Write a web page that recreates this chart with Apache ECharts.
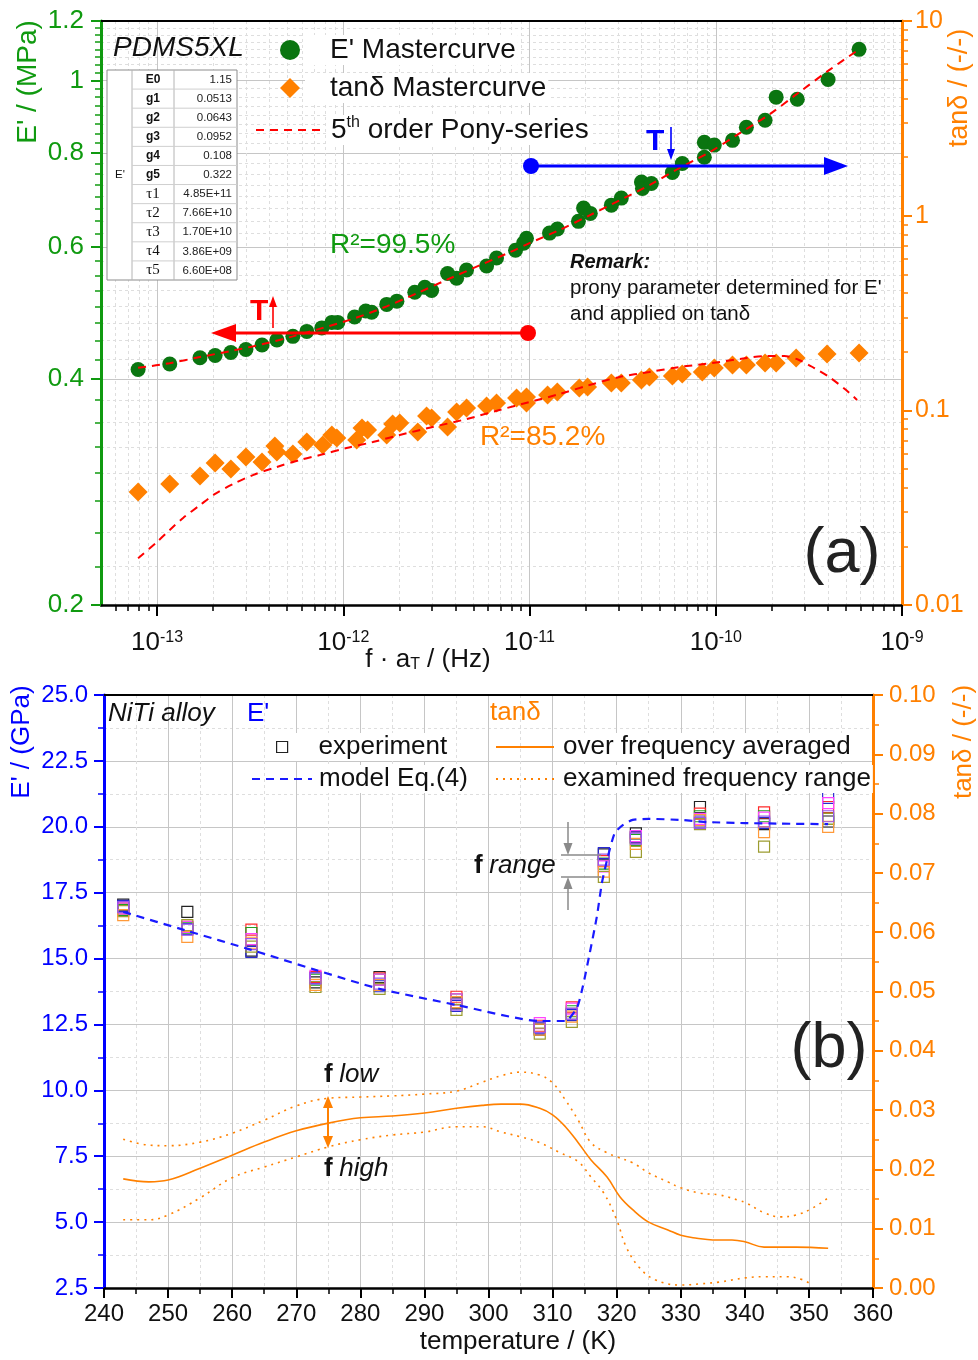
<!DOCTYPE html>
<html>
<head>
<meta charset="utf-8">
<title>PDMS5XL / NiTi alloy</title>
<script src="https://cdn.jsdelivr.net/npm/echarts@6.0.0/dist/echarts.min.js"></script>
<style>
  html, body { margin: 0; padding: 0; background: #fff; }
  #chart { width: 978px; height: 1360px; }
</style>
</head>
<body>
<div id="chart"></div>
<script>
// ---------------------------------------------------------------------------
// (a) PDMS5XL master curves
const eFreq = [7.91e-14, 1.17e-13, 1.70e-13, 2.05e-13, 2.49e-13, 3.00e-13, 3.66e-13, 4.40e-13, 5.36e-13, 6.37e-13,
  7.67e-13, 8.68e-13, 9.34e-13, 1.15e-12, 1.32e-12, 1.42e-12, 1.71e-12, 1.94e-12, 2.42e-12, 2.74e-12,
  2.98e-12, 3.63e-12, 4.06e-12, 4.59e-12, 5.88e-12, 6.65e-12, 8.41e-12, 9.29e-12, 9.63e-12, 1.28e-11,
  1.41e-11, 1.83e-11, 1.95e-11, 2.12e-11, 2.75e-11, 3.11e-11, 3.99e-11, 4.04e-11, 4.51e-11, 5.85e-11,
  6.61e-11, 8.68e-11, 8.68e-11, 9.82e-11, 1.23e-10, 1.46e-10, 1.84e-10, 2.11e-10, 2.74e-10, 4.01e-10, 5.88e-10];
const eStorage = [0.412, 0.419, 0.427, 0.430, 0.434, 0.438, 0.444, 0.451, 0.456, 0.463,
  0.468, 0.476, 0.476, 0.484, 0.493, 0.491, 0.503, 0.508, 0.522, 0.530,
  0.525, 0.553, 0.545, 0.559, 0.566, 0.580, 0.594, 0.607, 0.616, 0.626,
  0.634, 0.649, 0.676, 0.665, 0.682, 0.697, 0.732, 0.718, 0.729, 0.754,
  0.775, 0.790, 0.827, 0.820, 0.832, 0.866, 0.885, 0.950, 0.944, 1.003, 1.100];

const tanFreq = [7.91e-14, 1.17e-13, 1.70e-13, 2.05e-13, 2.49e-13, 3.00e-13, 3.66e-13, 4.29e-13, 4.40e-13, 5.36e-13,
  6.37e-13, 7.76e-13, 8.68e-13, 9.23e-13, 1.18e-12, 1.26e-12, 1.35e-12, 1.71e-12, 1.84e-12, 2.01e-12,
  2.51e-12, 2.80e-12, 2.98e-12, 3.63e-12, 4.06e-12, 4.59e-12, 5.88e-12, 6.65e-12, 8.52e-12, 9.63e-12,
  9.63e-12, 1.25e-11, 1.41e-11, 1.85e-11, 2.05e-11, 2.75e-11, 3.11e-11, 3.99e-11, 4.40e-11, 5.85e-11,
  6.61e-11, 8.47e-11, 9.82e-11, 1.23e-10, 1.46e-10, 1.84e-10, 2.11e-10, 2.70e-10, 3.96e-10, 5.88e-10];
const tanDelta = [0.0381, 0.0418, 0.0460, 0.0536, 0.0500, 0.0576, 0.0543, 0.0656, 0.0611, 0.0596,
  0.0687, 0.0663, 0.0747, 0.0721, 0.0704, 0.0811, 0.0792, 0.0747, 0.0851, 0.0861,
  0.0774, 0.0935, 0.0913, 0.0821, 0.0980, 0.1027, 0.1052, 0.1090, 0.1157, 0.1170,
  0.1090, 0.1198, 0.1242, 0.1302, 0.1317, 0.1381, 0.1381, 0.1431, 0.1483, 0.1501,
  0.1537, 0.1573, 0.1649, 0.1709, 0.1709, 0.1750, 0.1750, 0.1856, 0.1946, 0.1970];

// 5th order Prony fit, traced along the red dashes
const ponyEFreq = [7.91e-14, 1.17e-13, 1.70e-13, 2.49e-13, 3.66e-13, 5.36e-13, 7.76e-13, 1.15e-12, 1.71e-12, 2.51e-12,
  3.63e-12, 5.40e-12, 7.81e-12, 1.00e-11, 1.45e-11, 2.10e-11, 3.04e-11, 4.40e-11, 6.37e-11, 9.23e-11,
  1.34e-10, 1.94e-10, 2.80e-10, 4.06e-10, 5.88e-10];
const ponyE = [0.414, 0.420, 0.428, 0.436, 0.445, 0.456, 0.468, 0.482, 0.500, 0.521,
  0.543, 0.567, 0.590, 0.607, 0.632, 0.661, 0.692, 0.725, 0.764, 0.802,
  0.850, 0.901, 0.964, 1.032, 1.100];
const ponyTanFreq = [7.91e-14, 1.00e-13, 1.17e-13, 1.38e-13, 1.70e-13, 2.05e-13, 2.56e-13, 3.27e-13, 4.40e-13, 5.85e-13,
  7.48e-13, 1.04e-12, 1.44e-12, 2.01e-12, 3.02e-12, 4.59e-12, 6.90e-12, 1.00e-11, 1.45e-11, 2.10e-11,
  3.04e-11, 4.40e-11, 6.37e-11, 9.58e-11, 1.46e-10, 1.87e-10, 2.33e-10, 2.80e-10, 3.38e-10, 4.06e-10,
  5.01e-10, 5.74e-10];
const ponyTan = [0.0174, 0.0211, 0.0243, 0.0280, 0.0326, 0.0372, 0.0418, 0.0465, 0.0512, 0.0556,
  0.0589, 0.0640, 0.0687, 0.0747, 0.0821, 0.0902, 0.1004, 0.1103, 0.1213, 0.1349,
  0.1483, 0.1573, 0.1669, 0.1750, 0.1856, 0.1901, 0.1901, 0.1813, 0.1649, 0.1483,
  0.1272, 0.1130];

const pronyKeys = ['E0', 'g1', 'g2', 'g3', 'g4', 'g5', 'τ1', 'τ2', 'τ3', 'τ4', 'τ5'];
const pronyVals = ['1.15', '0.0513', '0.0643', '0.0952', '0.108', '0.322',
  '4.85E+11', '7.66E+10', '1.70E+10', '3.86E+09', '6.60E+08'];

const freqDecades = [1e-13, 1e-12, 1e-11, 1e-10, 1e-9];
const eTicks = [0.2, 0.4, 0.6, 0.8, 1, 1.2];
const tanTicksA = [0.01, 0.1, 1, 10];

// ---------------------------------------------------------------------------
// (b) NiTi alloy, one list per measuring frequency
const temps = [243, 253, 263, 273, 283, 295, 308, 313, 318, 323, 333, 343, 353];
const expBlack   = [17.05, 16.77, 15.30, 14.10, 14.30, 13.30, 12.30, 12.90, 18.95, 19.75, 20.75, 20.10, 20.20];
const expRed     = [16.90, 16.20, 16.10, 14.30, 14.25, 13.55, 12.45, 13.15, 18.70, 19.60, 20.50, 20.55, 20.75];
const expGreen   = [16.85, 16.15, 15.97, 14.20, 14.20, 13.45, 12.40, 13.00, 18.60, 19.50, 20.40, 20.40, 20.30];
const expBlue    = [17.00, 16.12, 15.25, 14.26, 13.95, 13.20, 12.35, 12.85, 19.00, 19.60, 20.20, 20.15, 21.10];
const expMagenta = [16.90, 16.20, 15.74, 14.34, 14.20, 13.45, 12.55, 13.10, 18.50, 19.65, 20.30, 20.35, 20.90];
const expOlive   = [16.80, 16.27, 15.45, 13.92, 13.85, 13.05, 12.15, 12.60, 18.10, 19.05, 20.10, 19.25, 20.30];
const expOrange  = [16.65, 15.82, 15.60, 14.00, 14.00, 13.35, 12.30, 12.80, 18.30, 19.35, 20.25, 19.80, 20.00];
const expPurple  = [16.95, 16.10, 15.55, 14.25, 14.05, 13.25, 12.40, 12.90, 18.75, 19.55, 20.15, 20.20, 20.40];

const modelT = [243, 253, 263, 273, 283, 295, 308, 312, 313.8, 314.7, 315.8, 316.9, 317.7, 318.5, 319.7, 321, 322.5, 325, 330, 334, 340, 345.5, 353];
const modelE = [16.77, 16.05, 15.33, 14.57, 13.85, 13.24, 12.63, 12.63, 13.13, 13.92, 15.21, 16.58, 17.87, 18.74, 19.76, 20.07, 20.26, 20.30, 20.26, 20.18, 20.14, 20.12, 20.10];

const avgT = [243, 247, 250, 255, 260, 265, 270, 275, 280, 285, 290, 295, 299, 302, 305, 308, 310, 312, 314, 316,
  318.5, 320.5, 322.5, 325, 328, 330, 332.5, 335, 338, 340, 343, 345.5, 348, 353];
const avgTan = [0.0184, 0.0179, 0.0182, 0.0202, 0.0224, 0.0246, 0.0265, 0.0278, 0.0287, 0.0290, 0.0295, 0.0303, 0.0308, 0.0310, 0.0310, 0.0303, 0.0292, 0.0272, 0.0245, 0.0216,
  0.0187, 0.0154, 0.0132, 0.0111, 0.0098, 0.0089, 0.0084, 0.0081, 0.0081, 0.0078, 0.0069, 0.0069, 0.0069, 0.0067];

const fLowT = [243, 247, 250, 255, 260, 265, 270, 275, 280, 285, 290, 295, 299, 302, 305, 308, 310, 312, 314, 316,
  318.5, 320, 322.5, 325, 328, 330, 333, 336, 339, 340.3, 343, 345.5, 348, 350.6, 353];
const fLowTan = [0.0251, 0.0241, 0.0240, 0.0246, 0.0261, 0.0283, 0.0307, 0.0320, 0.0322, 0.0324, 0.0327, 0.0332, 0.0347, 0.0358, 0.0364, 0.0359, 0.0346, 0.0317, 0.0283, 0.0245,
  0.0228, 0.0221, 0.0211, 0.0194, 0.0179, 0.0169, 0.0160, 0.0157, 0.0148, 0.0143, 0.0127, 0.0120, 0.0123, 0.0135, 0.0152];

const fHighT = [243, 247, 250, 255, 260, 265, 270, 275, 280, 285, 290, 295, 299, 302, 305, 308, 311, 314, 316, 318,
  320, 321.5, 323.5, 326, 330, 333, 336, 340, 343, 346.5, 349, 350.5];
const fHighTan = [0.0115, 0.0115, 0.0123, 0.0152, 0.0186, 0.0204, 0.0221, 0.0238, 0.0250, 0.0258, 0.0263, 0.0272, 0.0272, 0.0263, 0.0255, 0.0245, 0.0229, 0.0213, 0.0187, 0.0160,
  0.0115, 0.0069, 0.0035, 0.0014, 0.0005, 0.0007, 0.0010, 0.0017, 0.0019, 0.0019, 0.0014, 0.0005];

// ---------------------------------------------------------------------------
const FONT = '"Liberation Sans", Arial, Helvetica, sans-serif';
const SERIF = '"Liberation Serif", "DejaVu Serif", serif';
const GREEN = '#0a7510';
const GREEN_AX = '#109a10';
const ORANGE = '#ff8000';
const BLUE = '#0000ff';
const RED = '#ff0000';
const GRAY = '#8a8a8a';
const GRID = '#c6c6c6';
const GRID_MINOR = '#dedede';

function zip(xs, ys) {
  return xs.map((x, i) => [x, ys[i]]);
}

// minor ticks of a log axis: 2..9 x each decade
function logMinors(lo, hi) {
  const out = [];
  for (let e = Math.floor(Math.log10(lo)); e <= Math.ceil(Math.log10(hi)); e++) {
    for (let k = 2; k <= 9; k++) {
      const v = +(k * Math.pow(10, e)).toPrecision(3);
      if (v > lo && v < hi) out.push(v);
    }
  }
  return out;
}

// minor ticks of the E' axis at a fixed step
function stepMinors(lo, hi, step, skip) {
  const out = [];
  for (let v = lo + step; v < hi - step / 2; v += step) {
    const r = +v.toFixed(3);
    if (skip.indexOf(r) < 0) out.push(r);
  }
  return out;
}

const freqMinor = logMinors(5e-14, 1e-9);
const tanMinorA = logMinors(0.01, 10);
const eMinor = stepMinors(0.2, 1.2, 0.025, eTicks);

// ---------------------------------------------------------------------------
// graphic helpers
function seg(x1, y1, x2, y2, color, w) {
  return { type: 'line', z: 100, silent: true, shape: { x1, y1, x2, y2 }, style: { stroke: color, lineWidth: w } };
}
function head(x, y, dir, len, w, color) {
  let pts;
  if (dir === 'l') pts = [[x, y], [x + len, y - w], [x + len, y + w]];
  if (dir === 'r') pts = [[x, y], [x - len, y - w], [x - len, y + w]];
  if (dir === 'u') pts = [[x, y], [x - w, y + len], [x + w, y + len]];
  if (dir === 'd') pts = [[x, y], [x - w, y - len], [x + w, y - len]];
  return { type: 'polygon', z: 100, silent: true, shape: { points: pts }, style: { fill: color } };
}
function dot(x, y, r, color) {
  return { type: 'circle', z: 100, silent: true, shape: { cx: x, cy: y, r }, style: { fill: color } };
}
function txt(x, y, text, o) {
  o = o || {};
  return {
    type: 'text', z: 100, silent: true, x, y, rotation: o.rotation || 0,
    style: {
      text,
      fontSize: o.size || 24,
      fontFamily: o.family || FONT,
      fontWeight: o.weight || 'normal',
      fontStyle: o.style || 'normal',
      fill: o.color || '#111',
      align: o.align || 'left',
      verticalAlign: 'middle',
      backgroundColor: o.bg,
      rich: o.rich
    }
  };
}
function richFont(size, color, weight, style) {
  return { fontSize: size, fontFamily: FONT, color, fontWeight: weight || 'normal', fontStyle: style || 'normal' };
}

const graphics = [];

// prony table
const tX = 107, tY = 70, tW = 130, tH = 210, c1 = 132, c2 = 174;
const rowH = tH / pronyKeys.length;
graphics.push({ type: 'rect', z: 100, silent: true, shape: { x: tX, y: tY, width: tW, height: tH }, style: { fill: '#fff', stroke: '#8c8c8c', lineWidth: 1 } });
graphics.push(seg(c1, tY, c1, tY + tH, '#b4b4b4', 1));
graphics.push(seg(c2, tY, c2, tY + tH, '#b4b4b4', 1));
pronyKeys.forEach((k, i) => {
  const yc = tY + rowH * (i + 0.5);
  if (i > 0) graphics.push(seg(c1, tY + rowH * i, tX + tW, tY + rowH * i, '#cfcfcf', 1));
  const isTau = k.charAt(0) === 'τ';
  graphics.push(txt(153, yc, k, { size: isTau ? 15 : 12, weight: isTau ? 'normal' : 'bold', family: isTau ? SERIF : FONT, align: 'center' }));
  graphics.push(txt(232, yc, pronyVals[i], { size: 11.5, align: 'right', color: '#222' }));
});
graphics.push(txt(120, tY + tH / 2, "E'", { size: 11.5, align: 'center' }));

// panel (a) texts
graphics.push(txt(113, 48, 'PDMS5XL', { size: 28, style: 'italic' }));
graphics.push(txt(330, 245, 'R²=99.5%', { size: 28, color: GREEN_AX }));
graphics.push(txt(480, 437, 'R²=85.2%', { size: 28, color: ORANGE }));
graphics.push(txt(570, 262, 'Remark:', { size: 20, weight: 'bold', style: 'italic' }));
graphics.push(txt(570, 288, "prony parameter determined for E'", { size: 20.5 }));
graphics.push(txt(570, 314, 'and applied on tanδ', { size: 20.5 }));
graphics.push(txt(842, 555, '(a)', { size: 63, align: 'center', color: '#222' }));

// shift arrows
graphics.push(seg(234, 333, 528, 333, RED, 3));
graphics.push(head(211, 333, 'l', 25, 9, RED));
graphics.push(dot(528, 333, 8, RED));
graphics.push(txt(250, 312, 'T', { size: 30, weight: 'bold', color: RED }));
graphics.push(seg(273, 328, 273, 305, RED, 1.6));
graphics.push(head(273, 296, 'u', 11, 4, RED));

graphics.push(seg(531, 166, 826, 166, BLUE, 3));
graphics.push(head(848, 166, 'r', 24, 9, BLUE));
graphics.push(dot(531, 166, 8, BLUE));
graphics.push(txt(646, 142, 'T', { size: 30, weight: 'bold', color: BLUE }));
graphics.push(seg(671, 127, 671, 150, BLUE, 1.6));
graphics.push(head(671, 160, 'd', 11, 4, BLUE));

// axis names (a)
graphics.push(txt(428, 660, '{n|f · a}{s|T}{n| / (Hz)}', {
  align: 'center',
  rich: { n: richFont(26, '#111'), s: Object.assign(richFont(16, '#111'), { verticalAlign: 'bottom' }) }
}));
graphics.push(txt(28, 82, "E' / (MPa)", { size: 28, color: GREEN_AX, align: 'center', rotation: Math.PI / 2 }));
graphics.push(txt(960, 88, 'tanδ / (-/-)', { size: 27, color: ORANGE, align: 'center', rotation: Math.PI / 2 }));

// panel (b) texts
graphics.push(txt(108, 714, 'NiTi alloy', { size: 26, style: 'italic' }));
graphics.push(txt(247, 714, "E'", { size: 26, color: BLUE }));
graphics.push(txt(490, 713, 'tanδ', { size: 26, color: ORANGE }));
graphics.push(txt(474, 866, '{b|f} {i|range}', {
  rich: { b: richFont(26, GRAY, 'bold'), i: richFont(26, GRAY, 'normal', 'italic') }
}));
graphics.push(seg(568, 822, 568, 846, GRAY, 1.5));
graphics.push(head(568, 855, 'd', 12, 4.5, GRAY));
graphics.push(seg(561, 855, 601, 855, GRAY, 1.5));
graphics.push(seg(561, 877, 601, 877, GRAY, 1.5));
graphics.push(seg(568, 886, 568, 910, GRAY, 1.5));
graphics.push(head(568, 877, 'u', 12, 4.5, GRAY));
graphics.push(txt(829, 1050, '(b)', { size: 63, align: 'center', color: '#222' }));
graphics.push(txt(324, 1075, '{b|f} {i|low}', {
  rich: { b: richFont(26, ORANGE, 'bold'), i: richFont(26, ORANGE, 'normal', 'italic') }
}));
graphics.push(txt(324, 1169, '{b|f} {i|high}', {
  rich: { b: richFont(26, ORANGE, 'bold'), i: richFont(26, ORANGE, 'normal', 'italic') }
}));
graphics.push(seg(328, 1106, 328, 1138, ORANGE, 2));
graphics.push(head(328, 1096, 'u', 12, 5, ORANGE));
graphics.push(head(328, 1148, 'd', 12, 5, ORANGE));

// axis names (b)
graphics.push(txt(518, 1342, 'temperature / (K)', { size: 26, align: 'center' }));
graphics.push(txt(22, 742, "E' / (GPa)", { size: 26, color: BLUE, align: 'center', rotation: Math.PI / 2 }));
graphics.push(txt(964, 742, 'tanδ / (-/-)', { size: 26, color: ORANGE, align: 'center', rotation: Math.PI / 2 }));

// ---------------------------------------------------------------------------
// axes
const labelA = (color, size, margin) => ({ color, fontSize: size, fontFamily: FONT, margin });
const gridSolid = { show: true, lineStyle: { color: GRID, width: 1 } };
const gridDash = { show: true, lineStyle: { color: GRID_MINOR, width: 1, type: [3, 3] } };

const xAxes = [
  { // 0: f * aT, majors
    type: 'log', gridIndex: 0, min: 5e-14, max: 1e-9, position: 'bottom',
    axisLine: { show: true, onZero: false, lineStyle: { color: '#000', width: 2.5 } },
    axisTick: { show: true, inside: false, length: 11, customValues: freqDecades, lineStyle: { color: '#000', width: 2 } },
    axisLabel: {
      customValues: freqDecades, margin: 25,
      formatter: v => '{b|10}{s|' + Math.round(Math.log10(v)) + '}',
      rich: { b: richFont(26, '#111'), s: Object.assign(richFont(16, '#111'), { verticalAlign: 'top' }) }
    },
    splitLine: gridSolid
  },
  { // 1: f * aT, minors
    type: 'log', gridIndex: 0, min: 5e-14, max: 1e-9, position: 'bottom',
    axisLine: { show: false, onZero: false },
    axisTick: { show: true, length: 6, customValues: freqMinor, lineStyle: { color: '#000', width: 1.5 } },
    axisLabel: { show: false },
    splitLine: gridDash
  },
  { // 2: frame top
    type: 'log', gridIndex: 0, min: 5e-14, max: 1e-9, position: 'top',
    axisLine: { show: true, onZero: false, lineStyle: { color: '#000', width: 2 } },
    axisTick: { show: false }, axisLabel: { show: false }, splitLine: { show: false }
  },
  { // 3: temperature
    type: 'value', gridIndex: 1, min: 240, max: 360, interval: 10, position: 'bottom',
    axisLine: { show: true, onZero: false, lineStyle: { color: '#000', width: 2.5 } },
    axisTick: { show: true, length: 10, lineStyle: { color: '#000', width: 2 } },
    minorTick: { show: true, splitNumber: 2, length: 6, lineStyle: { color: '#000', width: 1.5 } },
    axisLabel: labelA('#111', 24, 14),
    splitLine: gridSolid,
    minorSplitLine: gridDash
  },
  { // 4: frame top
    type: 'value', gridIndex: 1, min: 240, max: 360, position: 'top',
    axisLine: { show: true, onZero: false, lineStyle: { color: '#000', width: 2 } },
    axisTick: { show: false }, axisLabel: { show: false }, splitLine: { show: false }
  }
];

const yAxes = [
  { // 0: E' (MPa)
    type: 'log', gridIndex: 0, min: 0.2, max: 1.2, position: 'left',
    axisLine: { show: true, onZero: false, lineStyle: { color: GREEN_AX, width: 3 } },
    axisTick: { show: true, length: 10, customValues: eTicks, lineStyle: { color: GREEN_AX, width: 2 } },
    axisLabel: Object.assign(labelA(GREEN_AX, 26, 17), { customValues: eTicks, formatter: v => String(+v.toPrecision(3)) }),
    splitLine: gridSolid
  },
  { // 1: tan delta (a)
    type: 'log', gridIndex: 0, min: 0.01, max: 10, position: 'right',
    axisLine: { show: true, onZero: false, lineStyle: { color: ORANGE, width: 3 } },
    axisTick: { show: true, length: 10, customValues: tanTicksA, lineStyle: { color: ORANGE, width: 2 } },
    axisLabel: Object.assign(labelA(ORANGE, 25, 13), { customValues: tanTicksA, formatter: v => String(+v.toPrecision(3)) }),
    splitLine: { show: false }
  },
  { // 2: E' minors
    type: 'log', gridIndex: 0, min: 0.2, max: 1.2, position: 'left',
    axisLine: { show: false, onZero: false },
    axisTick: { show: true, length: 6, customValues: eMinor, lineStyle: { color: GREEN_AX, width: 1.5 } },
    axisLabel: { show: false },
    splitLine: gridDash
  },
  { // 3: tan delta minors
    type: 'log', gridIndex: 0, min: 0.01, max: 10, position: 'right',
    axisLine: { show: false, onZero: false },
    axisTick: { show: true, length: 6, customValues: tanMinorA, lineStyle: { color: ORANGE, width: 1.5 } },
    axisLabel: { show: false },
    splitLine: { show: false }
  },
  { // 4: E' (GPa)
    type: 'value', gridIndex: 1, min: 2.5, max: 25, interval: 2.5, position: 'left',
    axisLine: { show: true, onZero: false, lineStyle: { color: BLUE, width: 3 } },
    axisTick: { show: true, length: 10, lineStyle: { color: BLUE, width: 2 } },
    minorTick: { show: true, splitNumber: 2, length: 6, lineStyle: { color: BLUE, width: 1.5 } },
    axisLabel: Object.assign(labelA(BLUE, 24, 16), { formatter: v => v.toFixed(1) }),
    splitLine: gridSolid,
    minorSplitLine: gridDash
  },
  { // 5: tan delta (b)
    type: 'value', gridIndex: 1, min: 0, max: 0.1, interval: 0.01, position: 'right',
    axisLine: { show: true, onZero: false, lineStyle: { color: ORANGE, width: 3 } },
    axisTick: { show: true, length: 10, lineStyle: { color: ORANGE, width: 2 } },
    minorTick: { show: true, splitNumber: 2, length: 6, lineStyle: { color: ORANGE, width: 1.5 } },
    axisLabel: Object.assign(labelA(ORANGE, 24, 16), { formatter: v => v.toFixed(2) }),
    splitLine: { show: false }
  }
];

// ---------------------------------------------------------------------------
// series
const PONY = '5th order Pony-series';
const series = [
  {
    type: 'scatter', name: "E' Mastercurve", xAxisIndex: 0, yAxisIndex: 0,
    data: zip(eFreq, eStorage), symbol: 'circle', symbolSize: 15,
    itemStyle: { color: GREEN, opacity: 1 }
  },
  {
    type: 'scatter', name: 'tanδ Mastercurve', xAxisIndex: 0, yAxisIndex: 1,
    data: zip(tanFreq, tanDelta), symbol: 'diamond', symbolSize: 19,
    itemStyle: { color: ORANGE, opacity: 1 }
  },
  {
    type: 'line', name: PONY, xAxisIndex: 0, yAxisIndex: 0, data: zip(ponyEFreq, ponyE),
    symbol: 'none', smooth: 0.3, itemStyle: { color: RED },
    lineStyle: { color: RED, width: 2, type: [8, 6] }, z: 4
  },
  {
    type: 'line', name: PONY, xAxisIndex: 0, yAxisIndex: 1, data: zip(ponyTanFreq, ponyTan),
    symbol: 'none', smooth: 0.3, itemStyle: { color: RED },
    lineStyle: { color: RED, width: 2, type: [8, 6] }, z: 4
  }
];

const expSets = [
  ['#222222', expBlack], ['#ff2a2a', expRed], ['#22a022', expGreen], ['#2a2ad0', expBlue],
  ['#ff44ff', expMagenta], ['#9c9c30', expOlive], ['#ff9a3a', expOrange], ['#9955ee', expPurple]
];
expSets.forEach(([color, vals]) => {
  series.push({
    type: 'scatter', name: 'experiment', xAxisIndex: 3, yAxisIndex: 4,
    data: zip(temps, vals), symbol: 'rect', symbolSize: 11,
    itemStyle: { color: 'rgba(0,0,0,0)', borderColor: color, borderWidth: 1.2, opacity: 1 }
  });
});
series.push(
  {
    type: 'line', name: 'model Eq.(4)', xAxisIndex: 3, yAxisIndex: 4, data: zip(modelT, modelE),
    symbol: 'none', smooth: 0.2, itemStyle: { color: '#1a1aff' },
    lineStyle: { color: '#1a1aff', width: 2.2, type: [8, 6] }, z: 4
  },
  {
    type: 'line', name: 'over frequency averaged', xAxisIndex: 3, yAxisIndex: 5, data: zip(avgT, avgTan),
    symbol: 'none', smooth: 0.4, itemStyle: { color: ORANGE },
    lineStyle: { color: ORANGE, width: 1.6 }, z: 4
  },
  {
    type: 'line', name: 'examined frequency range', xAxisIndex: 3, yAxisIndex: 5, data: zip(fLowT, fLowTan),
    symbol: 'none', smooth: 0.4, itemStyle: { color: ORANGE },
    lineStyle: { color: ORANGE, width: 1.6, type: [2, 5] }, z: 4
  },
  {
    type: 'line', name: 'examined frequency range', xAxisIndex: 3, yAxisIndex: 5, data: zip(fHighT, fHighTan),
    symbol: 'none', smooth: 0.4, itemStyle: { color: ORANGE },
    lineStyle: { color: ORANGE, width: 1.6, type: [2, 5] }, z: 4
  }
);

// legends: marker items and line items are kept apart so markers stay square
// and line icons carry no symbol
const legendText = (size, padLeft) => ({
  fontSize: size, fontFamily: FONT, color: '#111', lineHeight: size + 2,
  backgroundColor: '#fff', padding: [0, 2, 0, padLeft],
  rich: { sup: { fontSize: 16, fontFamily: FONT, color: '#111', verticalAlign: 'top' } }
});
const hiddenSymbol = { opacity: 0, borderWidth: 0 };

const option = {
  animation: false,
  backgroundColor: '#fff',
  grid: [
    { left: 101, top: 21, width: 801, height: 584 },
    { left: 104, top: 695, width: 769, height: 593 }
  ],
  xAxis: xAxes,
  yAxis: yAxes,
  legend: [
    {
      left: 275, top: 30, orient: 'vertical', itemWidth: 20, itemHeight: 20, itemGap: 8,
      selectedMode: false, data: ["E' Mastercurve", 'tanδ Mastercurve'],
      textStyle: legendText(28, 25)
    },
    {
      left: 250, top: 110, orient: 'vertical', itemWidth: 65, itemHeight: 16,
      selectedMode: false, data: [PONY], itemStyle: hiddenSymbol,
      formatter: () => '5{sup|th} order Pony-series',
      textStyle: legendText(28, 5)
    },
    {
      left: 271, top: 728, orient: 'vertical', itemWidth: 11, itemHeight: 11,
      selectedMode: false, data: ['experiment'],
      itemStyle: { borderWidth: 1.2 },
      textStyle: legendText(26, 26)
    },
    {
      left: 246, top: 760, orient: 'vertical', itemWidth: 60, itemHeight: 12,
      selectedMode: false, data: ['model Eq.(4)'], itemStyle: hiddenSymbol,
      textStyle: legendText(26, 2)
    },
    {
      left: 490, top: 728, orient: 'vertical', itemWidth: 58, itemHeight: 12, itemGap: 4,
      selectedMode: false, data: ['over frequency averaged', 'examined frequency range'],
      itemStyle: hiddenSymbol,
      textStyle: legendText(26, 4)
    }
  ],
  series,
  graphic: { elements: graphics }
};

const chart = echarts.init(document.getElementById('chart'), null, { renderer: 'canvas' });
chart.setOption(option);
</script>
</body>
</html>
